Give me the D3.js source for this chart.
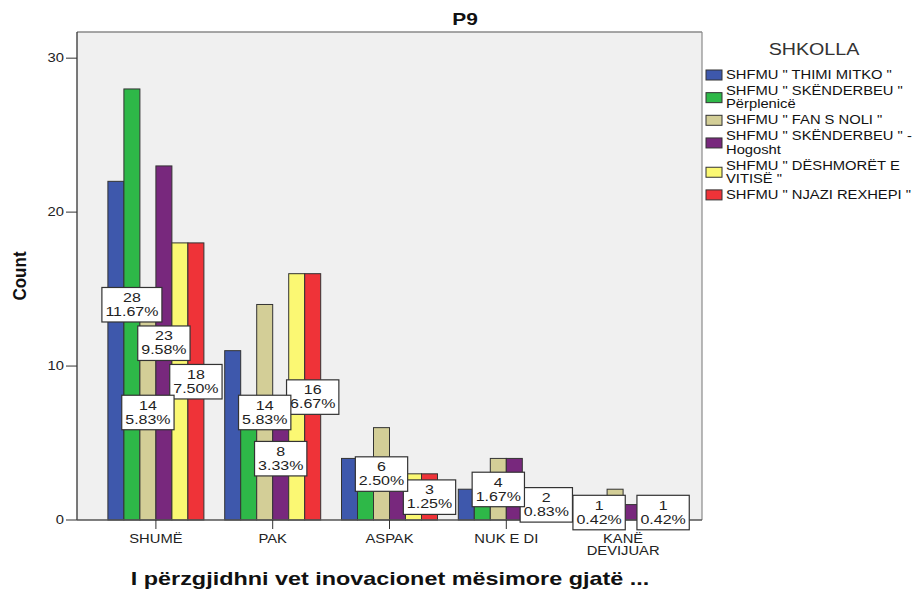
<!DOCTYPE html>
<html><head><meta charset="utf-8">
<script src="https://cdn.jsdelivr.net/npm/d3@7"></script>
<style>body{margin:0;background:#fff}svg{display:block}text{font-family:"Liberation Sans",Arial,sans-serif}</style>
</head><body>
<svg id="c" width="918" height="590"></svg>
<script>
const title = "P9";
const xTitle = "I përzgjidhni vet inovacionet mësimore gjatë ...";
const yTitle = "Count";
const legendTitle = "SHKOLLA";
const categories = ["SHUMË", "PAK", "ASPAK", "NUK E DI", "KANË\nDEVIJUAR"];
const series = [
  "SHFMU \" THIMI MITKO \"",
  "SHFMU \" SKËNDERBEU \"\nPërplenicë",
  "SHFMU \" FAN S NOLI \"",
  "SHFMU \" SKËNDERBEU \" -\nHogosht",
  "SHFMU \" DËSHMORËT E\nVITISË \"",
  "SHFMU \" NJAZI REXHEPI \""
];
const colors = ["#3E58AC", "#2EB848", "#D3CE97", "#78287D", "#FBF873", "#EF3338"];
// counts per series, in category order
const thimiMitko   = [22, 11, 4, 2, 1];
const skPerplenice = [28, 7, 2, 2, 1];
const fanSNoli     = [14, 14, 6, 4, 2];
const skHogosht    = [23, 8, 4, 4, 1];
const deshmoret    = [18, 16, 3, 2, 1];
const njaziRexhepi = [18, 16, 3, 2, 1];
const values = [thimiMitko, skPerplenice, fanSNoli, skHogosht, deshmoret, njaziRexhepi];
const total = 240;
const yTicks = [0, 10, 20, 30];
// which bars carry a data label: [categoryIndex, seriesIndex]
const shownLabels = [[0,1],[0,2],[0,3],[0,5],[1,2],[1,3],[1,5],[2,2],[2,5],[3,2],[3,5],[4,1],[4,5]];

const SX = 1.23;
const svg = d3.select("#c");
const L = 77, R = 702, T = 32, B = 520;

function stext(p, x, y, s, o) {
  o = o || {};
  return p.append("text")
    .attr("transform", `translate(${x},${y}) scale(${o.sx || SX},1)`)
    .attr("text-anchor", o.anchor || "start")
    .style("font-size", (o.size || 12) + "px")
    .style("font-weight", o.weight || "normal")
    .attr("fill", o.fill || "#222")
    .text(s);
}

// plot background
svg.append("rect").attr("x", L).attr("y", T).attr("width", R - L).attr("height", B - T).attr("fill", "#F0F0F0");

const y = d3.scaleLinear().domain([0, 31.7]).range([B, T]);
const x0 = d3.scaleBand().domain(categories).range([L + 20.5, R - 20.5]).paddingInner(0).paddingOuter(0);
const x1 = d3.scaleBand().domain(series).range([-48, 48]);

// borders
svg.append("line").attr("x1", L).attr("x2", R).attr("y1", T).attr("y2", T).attr("stroke", "#8a8a8a").attr("stroke-width", 1.5);
svg.append("line").attr("x1", R).attr("x2", R).attr("y1", T).attr("y2", B).attr("stroke", "#8a8a8a").attr("stroke-width", 1.2);

// bars
const data = [];
categories.forEach((c, ci) => series.forEach((s, si) => data.push({c, ci, s, si, v: values[si][ci]})));
svg.append("g").selectAll("rect").data(data.filter(d => d.v > 0)).join("rect")
  .attr("x", d => x0(d.c) + x0.bandwidth() / 2 + x1(d.s))
  .attr("y", d => y(d.v))
  .attr("width", x1.bandwidth())
  .attr("height", d => B - y(d.v))
  .attr("fill", d => colors[d.si])
  .attr("stroke", "#333").attr("stroke-width", 1);

// axes
const yAxis = svg.append("g");
yAxis.append("line").attr("x1", L).attr("x2", L).attr("y1", T).attr("y2", B).attr("stroke", "#333").attr("stroke-width", 1.3);
yTicks.forEach(t => {
  yAxis.append("line").attr("x1", L - 11).attr("x2", L).attr("y1", y(t)).attr("y2", y(t)).attr("stroke", "#333");
  stext(yAxis, L - 13, y(t) + 4, String(t), {anchor: "end", size: 12});
});
const xAxis = svg.append("g");
xAxis.append("line").attr("x1", L).attr("x2", R).attr("y1", B).attr("y2", B).attr("stroke", "#555").attr("stroke-width", 1.3);
categories.forEach(c => {
  const cx = x0(c) + x0.bandwidth() / 2;
  xAxis.append("line").attr("x1", cx).attr("x2", cx).attr("y1", B).attr("y2", B + 9).attr("stroke", "#333");
  c.split("\n").forEach((ln, i) => stext(xAxis, cx, 542.5 + i * 12, ln, {anchor: "middle", size: 12}));
});

// data labels (later series first so earlier ones sit on top)
const labs = shownLabels.slice().sort((a, b) => b[1] - a[1] || a[0] - b[0]);
const lg = svg.append("g");
labs.forEach(([ci, si]) => {
  const v = values[si][ci];
  const cx = x0(categories[ci]) + x0.bandwidth() / 2 + x1(series[si]) + x1.bandwidth() / 2;
  const cy = y(v / 2);
  const g = lg.append("g");
  const r = g.append("rect").attr("fill", "#fff").attr("stroke", "#333").attr("stroke-width", 1.2);
  const t1 = stext(g, cx, cy - 2.5, String(v), {anchor: "middle", size: 13});
  const t2 = stext(g, cx, cy + 11.5, (v / total * 100).toFixed(2) + "%", {anchor: "middle", size: 13});
  const w = Math.max(t1.node().getComputedTextLength(), t2.node().getComputedTextLength()) * SX + 7;
  r.attr("x", cx - w / 2).attr("y", cy - 17).attr("width", w).attr("height", 34.5);
});

// titles
stext(svg, 465, 25, title, {anchor: "middle", size: 17, weight: "bold", fill: "#111"});
stext(svg, 390, 585, xTitle, {anchor: "middle", size: 18, weight: "bold", fill: "#111", sx: 1.3});
svg.append("text").attr("transform", `translate(25.5,276) rotate(-90) scale(1,1.1)`)
  .attr("text-anchor", "middle").style("font-size", "17px").style("font-weight", "bold").attr("fill", "#111").text(yTitle);

// legend
const leg = svg.append("g");
stext(leg, 814, 55, legendTitle, {anchor: "middle", size: 16, fill: "#333"});
let by = 79;
series.forEach((s, si) => {
  const lines = s.split("\n");
  const first = by;
  lines.forEach((ln, i) => { stext(leg, 726, by, ln, {size: 12, fill: "#111"}); if (i < lines.length - 1) by += 13.3; });
  const top = first - 9, bot = by + 1;
  const mid = (top + bot) / 2;
  leg.append("rect").attr("x", 706).attr("y", mid - 5).attr("width", 16).attr("height", 10)
    .attr("fill", colors[si]).attr("stroke", "#333").attr("stroke-width", 1);
  by += 16;
});
</script>
</body></html>
